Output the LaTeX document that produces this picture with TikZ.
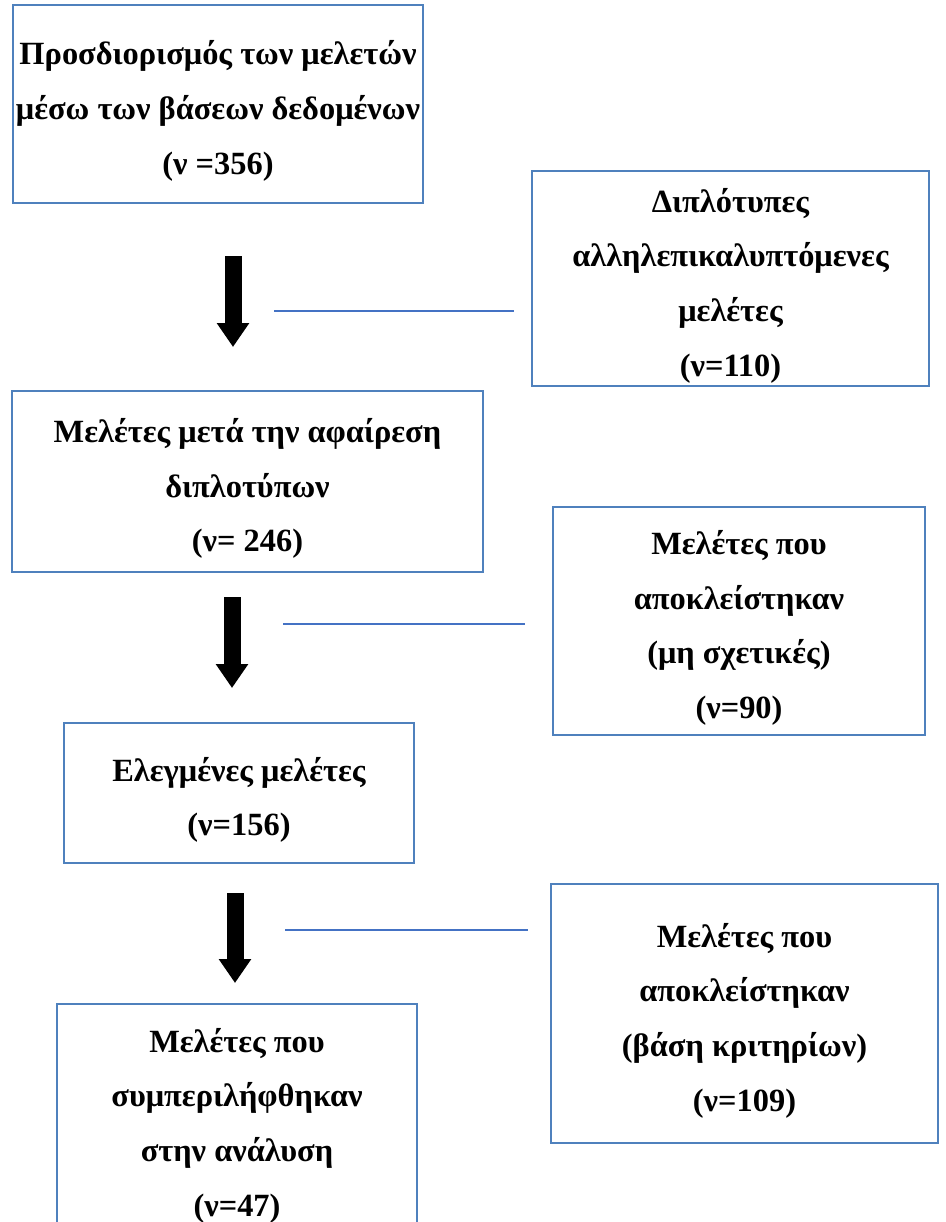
\documentclass[tikz,border=0pt]{standalone}
\usepackage{fontspec}
\setmainfont{Liberation Serif}
\usetikzlibrary{arrows.meta, positioning}
\definecolor{boxblue}{HTML}{4F81BD}
\definecolor{lineblue}{HTML}{4472C4}

\begin{document}
\begin{tikzpicture}[x=0.75pt, y=-0.75pt,
    stagebox/.style={draw=boxblue, line width=0.8pt, inner sep=0pt},
    boxtext/.style={align=center, inner sep=0pt, yshift=-5.25pt,
        font=\fontsize{24.3}{41}\selectfont\bfseries},
    boxsize/.style 2 args={minimum width=#1*0.75pt, minimum height=#2*0.75pt},
    downarrow/.style={line width=12.75pt, -{Triangle[length=18pt, width=23.25pt]}},
    sideline/.style={draw=lineblue, line width=1pt}]

    \useasboundingbox (0,0) rectangle (946,1222);
    \clip (0,0) rectangle (946,1222);

    % Main flow (left column)
    \node[stagebox, boxsize={410}{198}] (search) at (218,104) {};
    \node[boxtext] (searchtxt) at (search.center)
        {Προσδιορισμός των μελετών\\ μέσω των βάσεων δεδομένων\\ (ν =356)};
    \node[stagebox, boxsize={471}{181}] (nodup) at (247.5,481.5) {};
    \node[boxtext] (noduptxt) at (nodup.center)
        {Μελέτες μετά την αφαίρεση\\ διπλοτύπων\\ (ν= 246)};
    \node[stagebox, boxsize={350}{140}] (screened) at (239,793) {};
    \node[boxtext] (screenedtxt) at (screened.center)
        {Ελεγμένες μελέτες\\ (ν=156)};
    \node[stagebox, boxsize={360}{229}] (included) at (237,1118.5) {};
    \node[boxtext] (includedtxt) at (included.center)
        {Μελέτες που\\ συμπεριλήφθηκαν\\ στην ανάλυση\\ (ν=47)};

    % Excluded studies (right column)
    \node[stagebox, boxsize={397}{215}] (dups) at (730.5,278.5) {};
    \node[boxtext] (dupstxt) at (dups.center)
        {Διπλότυπες\\ αλληλεπικαλυπτόμενες\\ μελέτες\\ (ν=110)};
    \node[stagebox, boxsize={372}{228}] (irrelevant) at (739,621) {};
    \node[boxtext] (irrelevanttxt) at (irrelevant.center)
        {Μελέτες που\\ αποκλείστηκαν\\ (μη σχετικές)\\ (ν=90)};
    \node[stagebox, boxsize={387}{259}] (criteria) at (744.5,1013.5) {};
    \node[boxtext] (criteriatxt) at (criteria.center)
        {Μελέτες που\\ αποκλείστηκαν\\ (βάση κριτηρίων)\\ (ν=109)};

    % Block arrows
    \coordinate (a1top) at (233,256);
    \coordinate (a1tip) at (233,347);
    \coordinate (a2top) at (232,597);
    \coordinate (a2tip) at (232,688);
    \coordinate (a3top) at (235,893);
    \coordinate (a3tip) at (235,983);
    \draw[downarrow] (a1top) -- (a1tip);
    \draw[downarrow] (a2top) -- (a2tip);
    \draw[downarrow] (a3top) -- (a3tip);

    % Side lines
    \coordinate (l1a) at (274,311);
    \coordinate (l1b) at (514,311);
    \coordinate (l2a) at (283,624);
    \coordinate (l2b) at (525,624);
    \coordinate (l3a) at (285,930);
    \coordinate (l3b) at (528,930);
    \draw[sideline] (l1a) -- (l1b);
    \draw[sideline] (l2a) -- (l2b);
    \draw[sideline] (l3a) -- (l3b);

\end{tikzpicture}
\end{document}
